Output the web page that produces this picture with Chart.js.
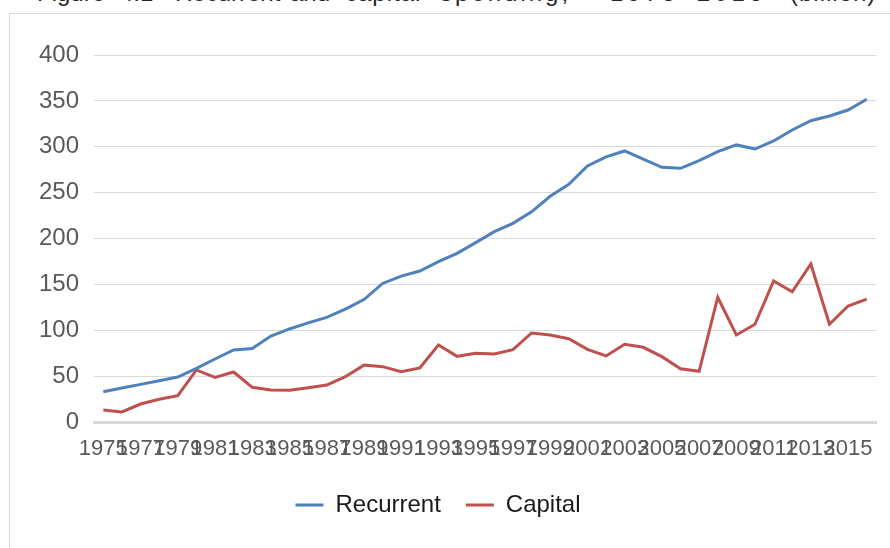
<!DOCTYPE html>
<html>
<head>
<meta charset="utf-8">
<script src="https://cdn.jsdelivr.net/npm/chart.js@4.4.1/dist/chart.umd.min.js"></script>
<style>
  html, body { margin: 0; padding: 0; background: #fff; overflow: hidden; }
  body { width: 890px; height: 548px; position: relative; font-family: "Liberation Sans", Arial, sans-serif; }
  .title span { position: absolute; top: -19px; font-size: 24px; line-height: 24px; color: #262626; white-space: nowrap; }
  .frame { position: absolute; left: 9px; top: 13px; width: 900px; height: 600px; border: 1px solid #d9d9d9; }
  #chart { position: absolute; left: 0; top: 0; }
</style>
</head>
<body>
<div class="title">
  <span style="left:37px">Figure</span>
  <span style="left:120px">4.1</span>
  <span style="left:175px">Recurrent</span>
  <span style="left:290px">and</span>
  <span style="left:345px; letter-spacing:1px">capital</span>
  <span style="left:440px; letter-spacing:3px">spending,</span>
  <span style="left:610px; letter-spacing:4px">1975–2016</span>
  <span style="left:790px; letter-spacing:1px">(billion)</span>
</div>
<div class="frame"></div>
<canvas id="chart" width="890" height="548"></canvas>
<script>
const years = [
    '1975', '1976', '1977', '1978', '1979', '1980', '1981', '1982', '1983', '1984',
    '1985', '1986', '1987', '1988', '1989', '1990', '1991', '1992', '1993', '1994',
    '1995', '1996', '1997', '1998', '1999', '2000', '2001', '2002', '2003', '2004',
    '2005', '2006', '2007', '2008', '2009', '2010', '2011', '2012', '2013', '2014',
    '2015', '2016',
];

const recurrent = [
    33, 37, 41, 45, 49, 58.5, 68.7, 78.5, 80, 93.7,
    101.4, 108, 114, 123, 133.5, 151, 159, 164.6, 174.7, 183.8,
    195.5, 207.5, 216.5, 229, 246, 259, 279, 289, 295.4, 286.6,
    277.6, 276.5, 284.8, 294.6, 302, 297.5, 306.3, 318.3, 328.4, 333.5,
    340, 351.7,
];

const capital = [
    13, 11, 19.6, 24.7, 28.7, 56.7, 48.7, 54.5, 37.8, 34.9,
    34.5, 37.4, 40.3, 49.4, 62, 60.3, 54.9, 58.9, 83.9, 71.6,
    74.9, 74.1, 78.8, 97, 94.8, 90.8, 79.2, 72, 84.7, 81.4,
    71.2, 58, 55.2, 136, 94.8, 106.5, 153.7, 142, 172.2, 106.5,
    126.4, 134,
];

const yTicks = [0, 50, 100, 150, 200, 250, 300, 350, 400];

const BLUE = '#4f81bd';
const RED = '#c0504d';
const GRID = '#d9d9d9';
const FONT = '"Liberation Sans", Arial, sans-serif';

new Chart(document.getElementById('chart'), {
    type: 'line',
    data: {
        labels: years,
        datasets: [
            { label: 'Recurrent', data: recurrent, borderColor: BLUE, backgroundColor: BLUE, borderWidth: 3 },
            { label: 'Capital', data: capital, borderColor: RED, backgroundColor: RED, borderWidth: 3 },
        ],
    },
    options: {
        responsive: false,
        animation: false,
        elements: {
            line: { tension: 0 },
            point: { radius: 0, hoverRadius: 0 },
        },
        layout: { padding: { left: 0, right: 14, top: 55, bottom: 21 } },
        plugins: {
            legend: {
                position: 'bottom',
                labels: {
                    usePointStyle: true,
                    pointStyle: 'line',
                    pointStyleWidth: 28,
                    padding: 25,
                    color: '#1a1a1a',
                    font: { family: FONT, size: 24 },
                },
            },
            tooltip: { enabled: false },
        },
        scales: {
            x: {
                offset: true,
                grid: { display: false, drawTicks: false },
                border: { display: true, color: GRID, width: 3 },
                ticks: {
                    autoSkip: false,
                    maxRotation: 0,
                    minRotation: 0,
                    padding: 14,
                    color: '#595959',
                    font: { family: FONT, size: 22 },
                    callback: (value, i) => (i % 2 === 0 ? years[i] : ''),
                },
                afterFit: (scale) => { scale.height = 46; },
            },
            y: {
                min: yTicks[0],
                max: yTicks[yTicks.length - 1],
                afterBuildTicks: (scale) => { scale.ticks = yTicks.map((v) => ({ value: v })); },
                grid: { color: GRID, lineWidth: 1, drawTicks: false },
                border: { display: false },
                ticks: {
                    padding: 15,
                    color: '#595959',
                    font: { family: FONT, size: 24 },
                },
                afterFit: (scale) => { scale.width = 94; },
            },
        },
    },
});
</script>
</body>
</html>
